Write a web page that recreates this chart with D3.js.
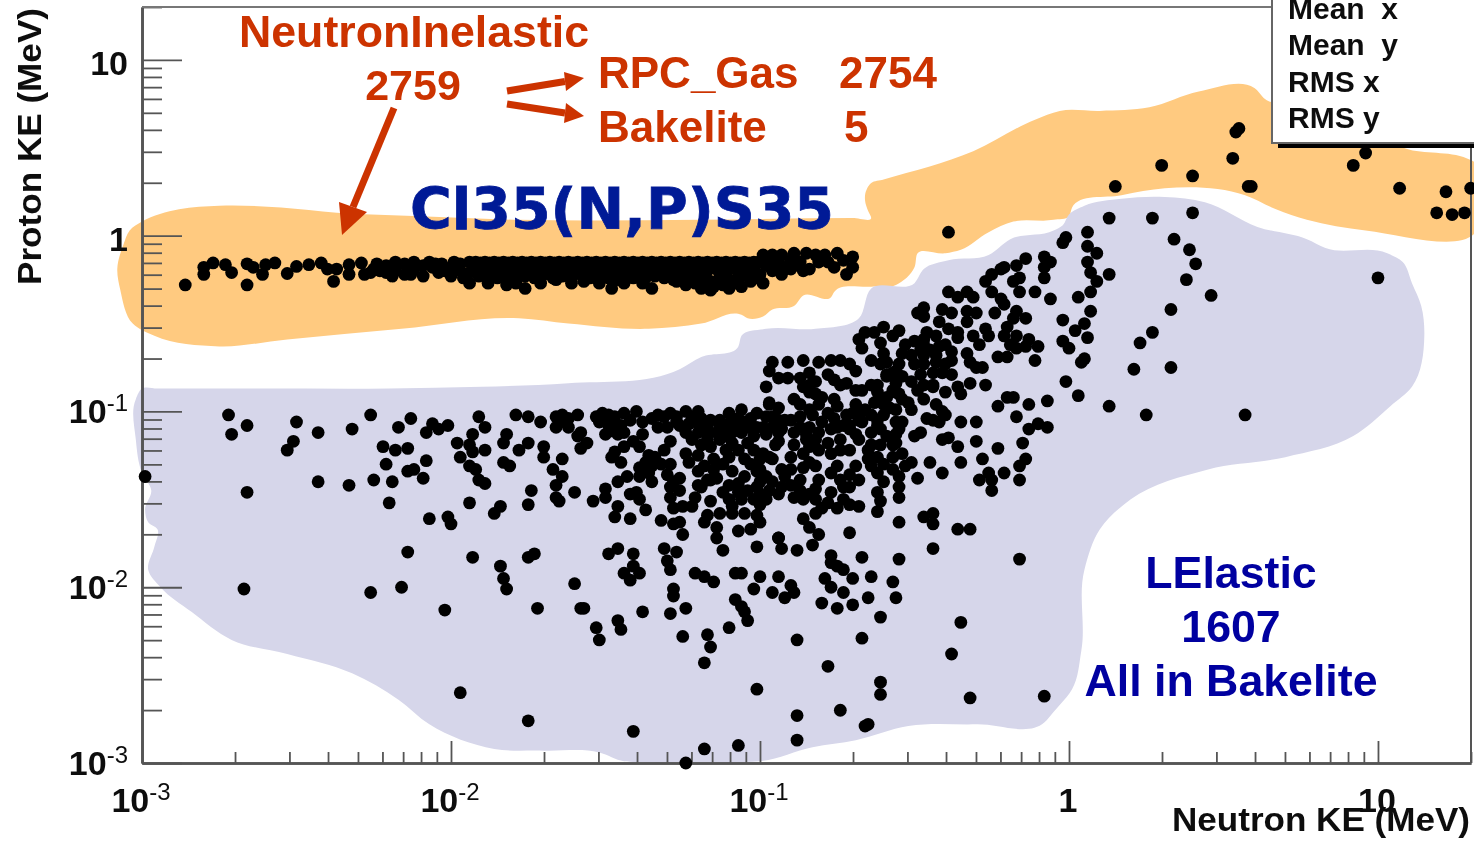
<!DOCTYPE html>
<html>
<head>
<meta charset="utf-8">
<script src="https://cdn.jsdelivr.net/npm/d3@7/dist/d3.min.js"></script>
<style>
  body { margin: 0; background: #fff; }
  text { font-family: "Liberation Sans", Arial, sans-serif; }
</style>
</head>
<body>
<svg id="chart" width="1474" height="841"></svg>
<script>
// all values are log10 of the energy in MeV: [neutron KE, proton KE]
const inelasticSparse = [[-2.86,-.28],[-2.8,-.22],[-2.8,-.18],[-2.77,-.155],[-2.73,-.165],[-2.71,-.21],[-2.66,-.16],[-2.66,-.28],[-2.64,-.18],[-2.61,-.22],[-2.6,-.165],[-2.57,-.155],[-2.53,-.215],[-2.5,-.175],[-2.46,-.165],[-2.42,-.155],[-2.4,-.19],[-2.38,-.26],[-2.37,-.19],[-2.33,-.165],[-2.33,-.22],[-2.29,-.155],[-2.28,-.22],[-2.25,-.19],
  [-.39,.02],[.15,.28],[.3,.4],[.4,.34],[.53,.44],[.55,.61],[.54,.59],[.58,.28],[.59,.28],[.92,.4],[.96,.47],[1.07,.27],[1.22,.25],[1.3,.27],[1.19,.13],[1.24,.12],[1.28,.13]];

const inelasticBand = [[-2.21,-.17],[-2.21,-.21],[-2.18,-.15],[-2.18,-.2],[-2.15,-.16],[-2.15,-.22],[-2.12,-.15],[-2.12,-.19],[-2.09,-.17],[-2.09,-.23],[-2.06,-.18],[-2.04,-.21],[-2.03,-.16],[-2,-.18],[-2,-.23],[-1.97,-.16],[-1.97,-.2],[-1.94,-.15],[-1.94,-.21],[-1.94,-.27],[-1.88,-.27],[-1.82,-.28],
  [-1.92,-.15],[-1.92,-.19],[-1.91,-.23],[-1.89,-.15],[-1.89,-.2],[-1.88,-.23],[-1.86,-.15],[-1.86,-.19],[-1.85,-.24],[-1.83,-.15],[-1.83,-.2],[-1.82,-.23],[-1.8,-.15],[-1.8,-.19],[-1.79,-.24],[-1.77,-.15],[-1.77,-.2],[-1.76,-.23],[-1.74,-.15],[-1.74,-.19],[-1.73,-.24],[-1.71,-.15],[-1.71,-.2],[-1.7,-.22],[-1.68,-.15],[-1.68,-.19],[-1.67,-.24],[-1.65,-.15],[-1.65,-.2],[-1.64,-.23],[-1.62,-.15],[-1.62,-.19],[-1.61,-.24],[-1.59,-.15],[-1.59,-.2],[-1.58,-.22],[-1.56,-.15],[-1.56,-.19],[-1.55,-.24],[-1.53,-.15],[-1.53,-.2],[-1.52,-.23],[-1.5,-.15],[-1.5,-.19],[-1.49,-.24],[-1.47,-.15],[-1.47,-.2],[-1.46,-.22],[-1.44,-.15],[-1.44,-.19],[-1.43,-.24],[-1.41,-.15],[-1.41,-.2],[-1.4,-.23],[-1.38,-.15],[-1.38,-.19],[-1.37,-.24],[-1.35,-.15],[-1.35,-.2],[-1.34,-.23],[-1.32,-.15],[-1.32,-.19],[-1.31,-.24],[-1.29,-.15],[-1.29,-.2],[-1.28,-.22],[-1.26,-.15],[-1.26,-.19],[-1.25,-.24],[-1.23,-.15],[-1.23,-.2],[-1.22,-.25],[-1.2,-.15],[-1.2,-.19],[-1.19,-.25],[-1.17,-.15],[-1.17,-.2],[-1.16,-.26],[-1.14,-.15],[-1.14,-.19],[-1.13,-.25],[-1.11,-.15],[-1.11,-.2],[-1.1,-.25],[-1.08,-.15],[-1.08,-.19],[-1.07,-.24],[-1.05,-.15],[-1.05,-.2],[-1.04,-.23],[-1.02,-.15],[-1.02,-.19],
  [-.99,-.11],[-.93,-.11],[-.89,-.1],[-.85,-.1],[-.82,-.11],[-.79,-.11],[-.75,-.1],[-.7,-.12],[-.7,-.18],[-.72,-.22],[-.76,-.18],[-.81,-.15],[-.84,-.19],[-.93,-.22],[-.9,-.19],[-.96,-.2],[-1,-.22],[-1.1,-.3],[-1.16,-.31],[-1.19,-.3],[-1.24,-.28],[-1.35,-.3],[-1.48,-.3],[-1.61,-.27],[-1.76,-.3],[-1.66,-.25],[-1.57,-.26],[-1.44,-.27],[-1.28,-.25],[-1.06,-.29],[-.97,-.14],[-.94,-.15],[-.9,-.14],[-.87,-.15],[-.86,-.2],[-.96,-.11],[-.78,-.15],[-.73,-.14]];

// the thick middle of the band, filling the gaps left above
const inelasticFill = [[-1.905,-.155],[-1.875,-.155],[-1.845,-.155],[-1.815,-.155],[-1.785,-.155],[-1.755,-.155],[-1.725,-.155],[-1.695,-.155],[-1.665,-.155],[-1.635,-.155],[-1.605,-.155],[-1.575,-.155],[-1.545,-.155],[-1.515,-.155],[-1.485,-.155],[-1.455,-.155],[-1.425,-.155],[-1.395,-.155],[-1.365,-.155],[-1.335,-.155],[-1.305,-.155],[-1.275,-.155],[-1.245,-.155],[-1.215,-.155],[-1.185,-.155],[-1.155,-.155],[-1.125,-.155],[-1.095,-.155],[-1.065,-.155],[-1.035,-.155],[-1.005,-.15],
  [-1.9,-.21],[-1.85,-.21],[-1.81,-.21],[-1.76,-.21],[-1.71,-.23],[-1.66,-.21],[-1.62,-.23],[-1.56,-.22],[-1.51,-.21],[-1.46,-.25],[-1.41,-.24],[-1.36,-.21],[-1.31,-.21],[-1.27,-.26],[-1.21,-.22],[-1.17,-.27],[-1.13,-.22],[-1.12,-.28],[-1.08,-.27],[-1.03,-.26],[-1.01,-.24],[-.98,-.17],[-.95,-.18],[-.92,-.18],[-.89,-.17],[-.99,-.27],[-1.15,-.29],[-1.21,-.27],[-1.38,-.27],[-1.52,-.27],[-1.71,-.27],[-1.79,-.27],
  [-2.24,-.16],[-2.26,-.21],[-2.23,-.2],[-2.19,-.23],[-2.13,-.22],[-2.07,-.15],[-2.05,-.16],[-2.02,-.2],[-1.96,-.24],[-1.99,-.15]];

const elasticLeft = [[-2.72,-1.02],[-2.71,-1.13],[-2.66,-1.08],[-2.5,-1.06],[-2.51,-1.17],[-2.53,-1.22],[-2.43,-1.12],[-2.32,-1.1],[-2.26,-1.02],[-2.99,-1.37],[-2.66,-1.46],[-2.67,-2.01],[-2.43,-1.4],[-2.33,-1.42],[-2.25,-1.39],[-2.19,-1.4],[-2.2,-1.52],[-2.26,-2.03],[-2.16,-2],[-2.14,-1.8],[-2.02,-2.13],[-1.97,-2.6],[-1.75,-2.76],[-1.93,-1.83],[-1.84,-1.88],[-1.83,-1.95],[-1.82,-2.01],[-1.75,-1.83],[-1.73,-1.81],[-1.72,-2.12],[-1.6,-1.98],[-1.58,-2.12],[-1.53,-2.23],[-1.52,-2.3],[-2.13,-1.04],[-2.17,-1.09],[-2.06,-1.07],[-2.04,-1.1],[-2.01,-1.08],[-2.08,-1.12],[-1.91,-1.03],[-1.89,-1.09],[-1.93,-1.13],[-1.98,-1.18],[-1.94,-1.19],[-1.93,-1.23],[-1.89,-1.22],[-2.22,-1.2],[-2.18,-1.22],[-2.14,-1.21],[-2.21,-1.3],[-2.08,-1.28],[-2.14,-1.34],[-2.12,-1.33],[-2.09,-1.38],[-1.97,-1.26],[-1.94,-1.31],[-1.92,-1.33],[-1.91,-1.39],[-1.89,-1.41],[-1.83,-1.29],[-1.81,-1.31],[-1.82,-1.13],[-1.83,-1.18],[-1.75,-1.18],[-1.78,-1.22],[-1.79,-1.02],[-1.75,-1.03],[-1.71,-1.06],[-1.7,-1.2],[-1.7,-1.26],[-1.64,-1.27],[-1.67,-1.33],[-1.64,-1.37],[-1.66,-1.42],[-1.66,-1.49],[-1.65,-1.51],[-1.74,-1.45],[-1.75,-1.53],[-1.94,-1.52],[-1.84,-1.54],[-1.86,-1.58],[-2.07,-1.61],[-2.01,-1.6],[-2,-1.64]];

const elasticMiddle = [[-1.6,-1.46],[-1.54,-1.51],[-1.5,-1.49],[-1.5,-1.44],[-1.46,-1.4],[-1.43,-1.37],[-1.42,-1.47],[-1.4,-1.46],[-1.39,-1.5],[-1.37,-1.56],[-1.46,-1.54],[-1.47,-1.6],[-1.42,-1.61],[-1.28,-1.55],[-1.32,-1.62],[-1.28,-1.64],[-1.26,-1.63],[-1.25,-1.7],[-1.25,-1.54],[-1.22,-1.54],[-1.16,-1.51],[-1.46,-1.78],[-1.49,-1.81],[-1.41,-1.81],[-1.31,-1.78],[-1.27,-1.8],[-1.01,-1.77],[-1.12,-1.79],[-1.14,-1.72],[-1.14,-1.66],[-1.07,-1.68],[-1.18,-1.63],[-1.17,-1.59],[-1.13,-1.58],[-1.09,-1.58],[-1.05,-1.58],[-1.03,-1.67],[-1,-1.63],[-1.01,-1.59],[-1,-1.53],[-.94,-1.72],
  [-1.66,-1.03],[-1.64,-1.02],[-1.66,-1.09],[-1.62,-1.09],[-1.65,-1.06],[-1.59,-1.02],[-1.53,-1.03],[-1.51,-1.01],[-1.49,-1.02],[-1.52,-1.06],[-1.49,-1.08],[-1.45,-1.08],[-1.44,-1.01],[-1.4,-1],[-1.5,-1.13],[-1.46,-1.13],[-1.44,-1.12],[-1.58,-1.12],[-1.59,-1.14],[-1.56,-1.18],[-1.58,-1.21],[-1.38,-1.06],[-1.35,-1.04],[-1.31,-1.03],[-1.29,-1.01],[-1.33,-1.09],[-1.3,-1.09],[-1.38,-1.13],[-1.41,-1.17],[-1.44,-1.2],[-1.39,-1.2],[-1.36,-1.25],[-1.47,-1.23],[-1.48,-1.26],[-1.45,-1.29],[-1.29,-1.17],[-1.31,-1.22],[-1.37,-1.29],[-1.39,-1.32],[-1.36,-1.35],[-1.39,-1.37],[-1.32,-1.3],[-1.29,-1.3],[-1.3,-1.36],[-1.26,-1.38],[-1.29,-1.43],[-1.26,-1.45],[-1.29,-1.49],[-1.24,-1],[-1.2,-1],[-1.16,-1.05],[-1.22,-1.04],[-1.24,-1.12],[-1.2,-1.12],[-1.17,-1.12],[-1.22,-1.16],[-1.24,-1.24],[-1.23,-1.29],[-1.2,-1.34],[-1.18,-1.31],[-1.13,-1.05],[-1.1,-1.01],[-1.06,-.99],[-1.01,-1.01],[-1.1,-1.08],[-1.05,-1.06],[-1.01,-1.09],[-1.14,-1.12],[-1.11,-1.14],[-1.06,-1.12],[-1.02,-1.14],[-.98,-1.13],[-1.16,-1.2],[-1.11,-1.22],[-1.07,-1.22],[-1.05,-1.27],[-1.15,-1.33],[-1.14,-1.38],[-1.17,-1.39],[-1.09,-1.34],[-1.05,-1.37],[-1.01,-1.34],[-.98,-1.37],[-1.01,-1.43],[-.97,-1.45],[-.94,-1.47],[-.99,-1.24],[-1,-1.27],[-.97,-1.26],[-1.19,-1.43],[-1.21,-1.49],[-1.12,-1.46],[-1.07,-1.46],[-1.1,-1.5],[-1.06,-1.5],[-1.09,-1.54],[-.97,-.96],[-.96,-1.03]];

const elasticRidge = [[-.39,-.32],[-.36,-.35],[-.33,-.32],[-.31,-.35],[-.49,-.44],[-.47,-.41],[-.47,-.46],[-.41,-.42],[-.38,-.44],[-.33,-.43],[-.3,-.44],[-.33,-.49],[-.42,-.49],[-.39,-.53],[-.36,-.55],[-.36,-.58],[-.46,-.55],[-.47,-.59],[-.5,-.6],[-.43,-.57],[-.48,-.65],[-.45,-.65],[-.42,-.63],[-.38,-.66],[-.38,-.71],[-.5,-.73],[-.47,-.73],[-.43,-.72],[-.41,-.78],[-.44,-.78],[-.27,-.53],[-.26,-.57],[-.31,-.57],[-.29,-.62],[-.33,-.67],[-.32,-.72],[-.3,-.75],[-.28,-.75],[-.27,-.26],[-.25,-.22],[-.22,-.19],[-.21,-.18],[-.17,-.17],[-.14,-.13],[-.16,-.24],[-.18,-.26],[-.16,-.32],[-.25,-.32],[-.22,-.36],[-.21,-.39],[-.24,-.44],[-.17,-.43],[-.18,-.47],[-.14,-.47],[-.08,-.12],[-.06,-.15],[-.08,-.18],[-.08,-.24],[-.11,-.32],[-.06,-.36],[-.2,-.52],[-.21,-.57],[-.17,-.57],[-.19,-.62],[-.13,-.59],[-.1,-.63],[-.14,-.63],[-.17,-.64],[-.23,-.69],[-.2,-.69],[-.11,-.71],[-.54,-.67],[-.55,-.73],[-.68,-.59],[-.66,-.55],[-.63,-.55],[-.6,-.52],[-.55,-.54],[-.57,-.57],[-.67,-.64],[-.64,-.71],[-.61,-.61],[-.6,-.67],[-.59,-.72],[-.57,-.78],[-.59,-.8],[-.56,-.84],[-.57,-.88],[-.54,-.8],[-.51,-.83],[-.49,-.88],[-.47,-.93],[-.47,-.85],[-.44,-.86],[-.4,-.89],[-.36,-.86],[-.35,-.9],[-.32,-.84],[-.27,-.85],
  [-.96,-.72],[-.97,-.77],[-.94,-.81],[-.91,-.72],[-.91,-.81],[-.86,-.71],[-.98,-.86],[-.87,-.81],[-.84,-.78],[-.81,-.72],[-.77,-.71],[-.74,-.71],[-.71,-.73],[-.69,-.77],[-.86,-.86],[-.82,-.83],[-.78,-.79],[-.76,-.82],[-.74,-.85],[-.72,-.84],[-.69,-.88],[-.64,-.85],[-.67,-.88],[-.62,-.89],[-.63,-.95],[-.59,-.92],[-.56,-.89],[-.54,-.93],[-.51,-.99],[-.52,-.95],[-.89,-.93],[-.84,-.89],[-.8,-.92],[-.76,-.93],[-.75,-.97],[-.97,-.95],[-.94,-.98],[-.98,-1.03],[-.94,-1.05],[-.92,-1.05],[-.87,-1.03],[-.83,-1.02],[-.78,-1.01],[-.76,-1.04],[-.87,-1.09],[-.84,-1.09],[-.8,-1.06],[-.75,-1.09],[-.7,-1.01],[-.67,-1],[-.71,-1.08],[-.68,-1.05],[-.62,-1.08],[-.43,-.96],[-.41,-1],[-.4,-1.02],[-.42,-1.06],[-.46,-1.04],[-.44,-1.05],[-.54,-1.06],[-.56,-1.06],[-.55,-1.1],[-.5,-1.14],[-.48,-1.12],[-.41,-1.16],[-.39,-1.15],[-.36,-1.2],[-.35,-1.06],[-.3,-1.06],[-.3,-1.17],[-.35,-1.29],[-.28,-1.27],[-.23,-1.21],[-.45,-1.29],[-.41,-1.35],[-.49,-1.38],[-.51,-1.29],[-.53,-1.31],[-.23,-.97],[-.2,-.92],[-.18,-.92],[-.13,-.96],[-.07,-.94],[-.17,-1.03],[-.13,-1.1],[-.1,-1.07],[-.07,-1.09],[-.15,-1.18],[-.14,-1.27],[-.16,-1.31],[-.16,-1.39],[-.21,-1.35],[-.25,-1.39],[-.26,-1.35],[-.29,-1.39],[-.25,-1.45],[-.94,-1.17],[-.9,-1.26],[-.86,-1.32],[-.82,-1.31],[-.81,-1.39],[-.87,-1.39],[-.89,-1.12],[-.85,-1.16],[-.81,-1.12],[-.84,-1.2],[-.78,-1.18],[-.86,-1.24],[-.74,-1.22],[-.71,-1.1],[-.68,-1.16],[-.67,-1.06],[-.64,-1.12],[-.59,-1.14],[-.62,-1.05],[-.56,-1.18],[-.54,-1.24],[-.65,-1.22],[-.62,-1.26],[-.57,-1.26],[-.64,-1.31],[-.62,-1.35],[-.57,-1.33],[-.75,-1.31],[-.77,-1.35],[-.69,-1.31],[-.6,-1.4],[-.62,-1.46],[-.55,-1.37],[-.55,-1.43],[-.55,-1.49],[-.73,-1.43],[-.77,-1.46],[-.71,-1.43],[-.93,-1.43],[-.89,-1.49],[-.96,-1.27]];

// the blackest part of the cloud, where single dots run together
const elasticCore = [[-.84,-.85],[-.82,-.9],[-.61,-.73],[-.59,-.79],[-.62,-.85],[-.56,-.77],[-.61,-.93],[-.58,-.98],[-.55,-.9],[-.47,-.62],[-.43,-.68],[-.47,-.68],[-.4,-.62],[-.4,-.73],[-.48,-.79],[-.44,-.85],[-.38,-.79],[-.87,-.96],[-.84,-.99],[-.81,-.96],[-.85,-1.13],[-.82,-1.16],[-.77,-1.1],[-.74,-1.16],[-.81,-1.22],[-.89,-1.19],[-.77,-1.24],[-.72,-1.02],[-.73,-1.08],[-.69,-.96],[-.69,-1.13],[-.64,-1.19],[-.61,-1.19],[-.57,-1.19],[-.61,-1.1],[-.56,-1.13],[-.66,-.99],[-.64,-1.02],[-.6,-1.02],[-.56,-.99],[-.6,-.96],[-.65,-1.27],[-.6,-1.3],[-.71,-1.22],[-.71,-1.36],[-.74,-1.39],[-.68,-1.39],[-.84,-1.29],[-.9,-1.05],[-.93,-1.1],[-.95,-1.19],[-.9,-1.33],[-.93,-1.33],[-.84,-1.47],[-.82,-1.44],[-.53,-.62],[-.51,-.68],
  [-1.48,-1.05],[-1.47,-1.03],[-1.51,-1.04],[-1.42,-1.05],[-1.48,-1.11],[-1.27,-1.03],[-1.26,-1.08],[-1.19,-1.04],[-1.2,-1.07],[-1.23,-1.07],[-1.17,-1.08],[-1.13,-1.09],[-1.09,-1.05],[-1.07,-1.04],[-1.03,-1.04],[-1.09,-1.12],[-1.04,-1.09],[-1.07,-1.09],[-1.13,-1.16],[-1.17,-1.16],[-1.19,-1.19],[-1.09,-1.18],[-1.04,-1.18],[-1.02,-1.22],[-.99,-1.09],[-.96,-1.09],[-.94,-1.12],[-1.2,-1.25],[-1.15,-1.27],[-1.12,-1.3],[-1.1,-1.26],[-1.16,-1.39],[-1.1,-1.42],[-1.07,-1.41],[-1.04,-1.45],[-1,-1.4],[-.96,-1.4],[-1.03,-1.3],[-1,-1.33],[-1.35,-1.31],[-1.34,-1.26],[-1.28,-1.4],[-1.35,-1.4],[-1.62,-1.04],[-1.33,-1.02],[-1.27,-1.06],
  [-1.2,-1.42],[-1.02,-1.5],[-.98,-1.5],[-1,-1.47],[-.92,-1.37],[-.9,-1.42],[-.87,-1.45],[-.86,-1.5],[-.82,-1.5],[-.78,-1.52],[-.73,-1.5],[-.71,-1.53],[-.75,-1.55]];

const elasticLow = [[-.94,-1.72],[-.93,-1.78],[-.88,-1.79],[-.83,-1.76],[-.81,-1.7],[-.71,-1.69],[-.84,-1.66],[-.86,-1.61],[-.82,-1.58],[-.8,-1.55],[-.68,-1.54],[-.62,-1.57],[-.55,-1.63],[-.61,-1.51],[-.47,-1.6],[-.44,-1.58],[-.44,-1.64],[-.36,-1.67],[-.32,-1.67],[-.44,-1.78],[-.16,-1.84],[-1.44,-1.92],[-1.42,-1.96],[-1.39,-1.92],[-1.41,-1.88],[-1.3,-1.85],[-1.29,-1.9],[-1.28,-2.01],[-1.28,-2.05],[-1.38,-2.14],[-1.29,-2.15],[-1.24,-2.12],[-1.46,-2.19],[-1.45,-2.24],[-1.57,-2.12],[-1.21,-1.92],[-1.18,-1.94],[-1.15,-1.97],[-1.08,-1.92],[-1.06,-1.92],[-1,-1.94],[-.94,-1.94],[-1.02,-2.01],[-.96,-2.03],[-.9,-1.99],[-.89,-2.03],[-.92,-2.06],[-1.08,-2.07],[-1.06,-2.11],[-1.05,-2.14],[-1.04,-2.19],[-1.25,-2.28],[-1.17,-2.27],[-1.16,-2.34],[-1.1,-2.23],[-1.18,-2.43],[-.77,-1.82],[-.77,-1.86],[-.75,-1.88],[-.73,-1.9],[-.67,-1.83],[-.55,-1.84],[-.79,-1.95],[-.77,-2],[-.7,-1.95],[-.64,-1.94],[-.73,-2.03],[-.65,-2.06],[-.57,-1.97],[-.56,-2.06],[-.8,-2.09],[-.75,-2.12],[-.7,-2.1],[-.61,-2.17],[-.88,-2.3],[-.67,-2.29],[-.35,-2.2],[-.38,-2.38],[-.78,-2.45],[-1.01,-2.58],[-.61,-2.54],[-.61,-2.61],[-.32,-2.63],[-.08,-2.62],[-.88,-2.73],[-.74,-2.7],[-.65,-2.78],[-.66,-2.79],[-1.41,-2.82],[-.88,-2.87],[-1.18,-2.92],[-1.07,-2.9],[-1.24,-3]];

const elasticRight = [[.13,.1],[.27,.1],[.4,.13],[.34,-.02],[.39,-.08],[.41,-.16],[.38,-.25],[.46,-.34],[.33,-.42],[.27,-.55],[.23,-.61],[.21,-.76],[.33,-.75],[.13,-.97],[.25,-1.02],[.57,-1.02],[1,-.24],[.06,.02],[-.01,-.01],[-.02,-.04],[.06,-.06],[.09,-.1],[.06,-.15],[.07,-.21],[.09,-.26],[.13,-.22],[.07,-.32],[.03,-.35],[.07,-.43],[.05,-.5],[-.02,-.48],[.02,-.54],[.06,-.58],[-.02,-.6],[0,-.64],[.05,-.7],[.04,-.72],[-.01,-.83],[.03,-.91]];

// hand painted regions behind the points
const orangeRegion = [[-3,.08],[-2.88,.15],[-2.75,.17],[-2.55,.16],[-2.37,.13],[-2.1,.11],[-1.78,.09],[-1.19,.09],[-.7,.1],[-.64,.1],[-.65,.14],[-.66,.2],[-.66,.23],[-.64,.3],[-.6,.32],[-.31,.48],[-.11,.66],[-.03,.71],[.1,.71],[.26,.73],[.42,.82],[.6,.84],[.64,.77],[.75,.77],[1.1,.49],[1.3,.43],[1.32,.41],[1.32,.03],[.96,.03],[.77,.09],[.67,.15],[.57,.23],[.31,.27],[.17,.23],[.01,.16],[0,.11],[-.05,.09],[-.18,.08],[-.26,.02],[-.35,-.08],[-.4,-.1],[-.49,-.1],[-.5,-.18],[-.56,-.28],[-.64,-.29],[-.76,-.32],[-.77,-.35],[-.86,-.34],[-.89,-.4],[-.96,-.42],[-.99,-.46],[-1.04,-.47],[-1.06,-.45],[-1.19,-.5],[-1.36,-.53],[-1.62,-.5],[-1.78,-.47],[-2.16,-.53],[-2.53,-.59],[-2.75,-.63],[-2.96,-.57],[-3.03,-.5],[-3.07,-.31],[-3.08,-.19],[-3.06,-.05],[-3.04,.03]];
const lavenderRegion = [[-3,-.87],[-2.95,-.87],[-2.8,-.87],[-2.6,-.87],[-2.2,-.87],[-1.9,-.86],[-1.62,-.84],[-1.26,-.76],[-1.19,-.69],[-1.07,-.63],[-1.06,-.57],[-.98,-.53],[-.82,-.53],[-.68,-.47],[-.64,-.3],[-.5,-.27],[-.47,-.19],[-.39,-.14],[-.26,-.11],[-.19,-.02],[-.05,.03],[-.02,.06],[0,.12],[.05,.17],[.17,.21],[.31,.22],[.44,.19],[.61,.05],[.77,-.02],[.83,-.07],[1.03,-.1],[1.08,-.15],[1.11,-.27],[1.14,-.4],[1.15,-.57],[1.11,-.86],[1.04,-.97],[.92,-1.14],[.7,-1.26],[.45,-1.33],[.2,-1.5],[.1,-1.67],[.05,-1.9],[.04,-2.36],[.01,-2.58],[-.03,-2.67],[-.05,-2.71],[-.08,-2.77],[-.3,-2.78],[-.52,-2.79],[-.69,-2.87],[-.83,-2.91],[-1,-2.99],[-1.05,-2.995],[-1.2,-2.995],[-1.4,-2.995],[-1.44,-2.99],[-1.52,-2.94],[-1.7,-2.93],[-1.86,-2.92],[-2.07,-2.78],[-2.17,-2.64],[-2.32,-2.49],[-2.53,-2.38],[-2.71,-2.3],[-2.84,-2.14],[-2.94,-2],[-2.98,-1.9],[-2.96,-1.77],[-2.95,-1.67],[-2.98,-1.63],[-2.99,-1.56],[-2.97,-1.45],[-3,-1.35],[-3.02,-1.16],[-3.02,-.93]];

const xMajor = [0.001, 0.01, 0.1, 1, 10];
const xLabels = ['10', '10', '10', '1', '10'];
const xExps = ['-3', '-2', '-1', '', ''];
const yMajor = [0.001, 0.01, 0.1, 1, 10];
const yLabels = ['10', '10', '10', '1', '10'];
const yExps = ['-3', '-2', '-1', '', ''];
const statNames = ['Mean  x', 'Mean  y', 'RMS x', 'RMS y'];

const orange = '#ffca80';
const lavender = '#d6d6ea';
const red = '#cc3300';
const axisGrey = '#555';

const svg = d3.select('#chart');

const defs = svg.append('defs');
defs.append('filter').attr('id', 'soft')
  .attr('x', '-5%').attr('y', '-5%').attr('width', '110%').attr('height', '110%')
  .append('feGaussianBlur').attr('stdDeviation', 0.6);

const x = d3.scaleLog().domain([0.001, 20]).range([142, 1471]);
const y = d3.scaleLog().domain([0.001, 20]).range([763, 7]);

const outline = d3.line()
  .x(d => x(10 ** d[0]))
  .y(d => y(10 ** d[1]))
  .curve(d3.curveCatmullRomClosed.alpha(1));

svg.append('path').attr('d', outline(orangeRegion)).attr('fill', orange);
svg.append('path').attr('d', outline(lavenderRegion)).attr('fill', lavender);

// minor ticks: 2..9 in every decade, plus the 20 at the end of each axis
function minorTicks() {
  const out = [];
  [0.001, 0.01, 0.1, 1].forEach(dec => d3.range(2, 10).forEach(m => out.push(dec * m)));
  out.push(20);
  return out;
}

const axes = svg.append('g').attr('filter', 'url(#soft)');

function styleAxis(g, width) {
  g.select('.domain').attr('stroke', axisGrey).attr('stroke-width', width);
  g.selectAll('.tick line').attr('stroke', axisGrey).attr('stroke-width', 1.8);
  g.selectAll('.tick text').remove();
}

axes.append('g').attr('transform', 'translate(0,763)')
  .call(d3.axisBottom(x).tickValues(minorTicks()).tickSize(-11).tickSizeOuter(0))
  .call(styleAxis, 2.6);
axes.append('g').attr('transform', 'translate(0,763)')
  .call(d3.axisBottom(x).tickValues(xMajor).tickSize(-22).tickSizeOuter(0))
  .call(styleAxis, 2.6);
axes.append('g').attr('transform', 'translate(142,0)')
  .call(d3.axisRight(y).tickValues(minorTicks()).tickSize(20).tickSizeOuter(0))
  .call(styleAxis, 2.6);
axes.append('g').attr('transform', 'translate(142,0)')
  .call(d3.axisRight(y).tickValues(yMajor).tickSize(40).tickSizeOuter(0))
  .call(styleAxis, 2.6);

// frame top and right
axes.append('line').attr('x1', 142).attr('x2', 1471).attr('y1', 7).attr('y2', 7)
  .attr('stroke', '#777').attr('stroke-width', 2);
axes.append('line').attr('x1', 1471).attr('x2', 1471).attr('y1', 7).attr('y2', 763)
  .attr('stroke', axisGrey).attr('stroke-width', 2);

// tick labels, with the exponent raised by hand
const labels = svg.append('g').attr('filter', 'url(#soft)')
  .attr('font-weight', 'bold').attr('font-size', 34).attr('fill', '#111');

function addLabel(sel, base, exp) {
  sel.append('tspan').text(base);
  if (exp) {
    sel.append('tspan').attr('dy', -12).attr('font-size', 24).attr('font-weight', 'normal').text(exp);
  }
}

xMajor.forEach((v, i) => {
  const t = labels.append('text').attr('y', 812).attr('text-anchor', 'middle').attr('x', x(v) - 1);
  addLabel(t, xLabels[i], xExps[i]);
});
yMajor.forEach((v, i) => {
  const t = labels.append('text').attr('x', 128).attr('y', y(v) + (yExps[i] ? 12 : 15)).attr('text-anchor', 'end');
  addLabel(t, yLabels[i], yExps[i]);
});

labels.append('text').attr('x', 1172).attr('y', 831).attr('font-size', 32.5)
  .attr('textLength', 298).attr('lengthAdjust', 'spacingAndGlyphs')
  .text('Neutron KE (MeV)');
labels.append('text').attr('transform', 'translate(41,285) rotate(-90)').attr('font-size', 32.5)
  .attr('textLength', 277).attr('lengthAdjust', 'spacingAndGlyphs')
  .text('Proton KE (MeV)');

// the events
const allPoints = [inelasticSparse, inelasticBand, inelasticFill, elasticLeft, elasticMiddle, elasticRidge, elasticCore, elasticLow, elasticRight].flat();
svg.append('g').attr('filter', 'url(#soft)')
  .selectAll('circle')
  .data(allPoints).enter()
  .append('circle')
  .attr('cx', d => x(10 ** d[0]))
  .attr('cy', d => y(10 ** d[1]))
  .attr('r', 6.4)
  .attr('fill', '#000');

// stats box in the corner, cut by the page edge
const box = svg.append('g').attr('filter', 'url(#soft)');
box.append('rect').attr('x', 1278).attr('y', 144).attr('width', 200).attr('height', 4).attr('fill', '#000');
box.append('rect').attr('x', 1272).attr('y', -5).attr('width', 210).attr('height', 148)
  .attr('fill', '#fff').attr('stroke', '#666').attr('stroke-width', 2);
box.selectAll('text')
  .data(statNames).enter()
  .append('text')
  .attr('x', 1288)
  .attr('y', (d, i) => 19 + i * 36.4)
  .attr('font-size', 30)
  .attr('font-weight', 'bold')
  .attr('fill', '#111')
  .style('white-space', 'pre')
  .text(d => d);

// annotations
const notes = svg.append('g').attr('font-weight', 'bold');

function note(txt, px, py, size, colour, anchor) {
  return notes.append('text').attr('x', px).attr('y', py)
    .attr('font-size', size).attr('fill', colour)
    .attr('text-anchor', anchor || 'start').text(txt);
}

note('NeutronInelastic', 239, 47, 44.7, red);
note('2759', 413, 100, 43, red, 'middle');
note('RPC_Gas', 598, 88, 44, red);
note('2754', 839, 88, 44, red);
note('Bakelite', 598, 142, 44, red);
note('5', 844, 142, 44, red);

note('Cl35(N,P)S35', 410, 229, 57, '#001a96')
  .style('font-family', '"DejaVu Sans"')
  .attr('stroke', '#001a96').attr('stroke-width', 0.8)
  .attr('textLength', 424).attr('lengthAdjust', 'spacingAndGlyphs');

note('LElastic', 1231, 588, 44.7, '#0000a0', 'middle');
note('1607', 1231, 642, 44.7, '#0000a0', 'middle');
note('All in Bakelite', 1231, 696, 44.7, '#0000a0', 'middle');

// red arrows: tail, tip, and the two back corners of the head
function arrow(tail, tip, a, b) {
  notes.append('line').attr('x1', tail[0]).attr('y1', tail[1]).attr('x2', (a[0] + b[0]) / 2).attr('y2', (a[1] + b[1]) / 2)
    .attr('stroke', red).attr('stroke-width', 7);
  notes.append('polygon').attr('points', [tip, a, b].join(' ')).attr('fill', red);
}
arrow([394, 108], [342, 235], [339, 202], [367, 212]);
arrow([507, 91], [584, 78], [564, 72], [566, 91]);
arrow([507, 104], [584, 116], [566, 103], [564, 123]);
</script>
</body>
</html>
